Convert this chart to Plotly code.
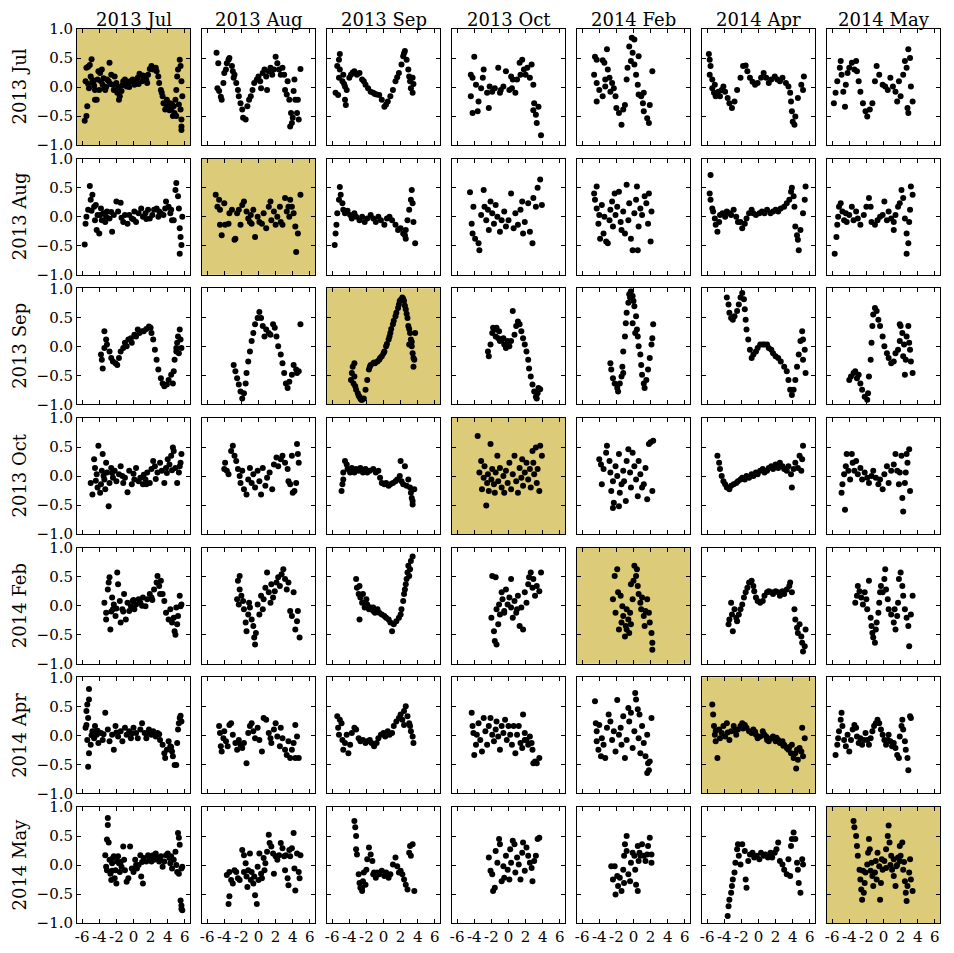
import plotly.graph_objects as go

months = ["2013 Jul", "2013 Aug", "2013 Sep", "2013 Oct", "2014 Feb", "2014 Apr", "2014 May"]
x_ticks = [-6, -4, -2, 0, 2, 4, 6]
x_tick_text = ["-6", "-4", "-2", "0", "2", "4", "6"]
y_ticks = [-1.0, -0.5, 0.0, 0.5, 1.0]
y_tick_text = ["\u22121.0", "\u22120.5", "0.0", "0.5", "1.0"]

# ---- row 0 : 2013 Jul ----
p_r0_c0 = [(-5.7,-.58),(-5.5,-.5),(-5.4,-.33),(-5.6,.1),(-5.5,.33),(-5.3,.35),(-5.1,.38),(-4.9,.48),(-5.0,.18),(-5.2,-.02),(-4.7,.07),(-4.5,-.05),(-4.3,-.22),(-4.5,-.22),(-4.2,.13),(-4.1,.27),(-3.9,.24),(-3.7,.3),(-3.6,.04),(-3.4,-.02),(-3.3,-.05),(-3.1,.13),(-2.9,.1),(-2.8,.42),(-2.6,.21),(-2.4,.04),(-2.2,.18),(-2.0,.07),(-1.9,-.1),(-1.7,-.22),(-1.6,-.16),(-1.4,-.07),(-1.2,.1),(-1.0,.13),(-.8,.01),(-.6,.07),(-.4,.1),(-.1,.13),(.1,.04),(.3,.1),(.5,.16),(.7,.23),(1.0,.1),(1.2,.13),(1.4,.18),(1.6,.07),(1.7,.21),(1.9,.31),(2.1,.36),(2.3,.3),(2.6,.33),(2.7,.27),(2.9,.18),(3.0,.07),(3.2,-.05),(3.4,-.16),(3.5,-.28),(3.7,-.39),(3.9,-.22),(4.1,-.33),(4.3,-.28),(4.4,-.39),(4.6,-.5),(4.7,-.33),(4.9,-.22),(5.0,-.05),(5.1,.18),(5.2,.3),(5.4,.47),(5.5,.36),(5.6,.1),(5.7,-.16),(5.5,-.39),(5.6,-.56),(5.6,-.68),(5.6,-.74),(-5.3,.05),(-4.8,.12),(-4.6,.02),(-4.0,-.05),(-3.8,.1),(-3.5,.15),(-3.2,.0),(-2.7,.05),(-2.3,-.05),(-1.8,.0),(-1.3,.03),(-.9,.08),(-.5,.0),(0.0,.08),(.6,.05),(1.1,.2),(1.5,.12),(3.3,-.1),(3.8,-.3),(4.2,-.4),(4.5,-.3),(4.8,-.45),(5.3,-.3),(5.0,-.5)]
p_r0_c1 = [(-4.9,.59),(-4.7,.41),(-4.8,-.02),(-4.6,-.07),(-4.4,-.17),(-4.3,-.22),(-4.1,.07),(-4.0,.24),(-3.8,.3),(-3.7,.41),(-3.5,.47),(-3.4,.5),(-3.1,.36),(-3.0,.27),(-2.9,.16),(-2.8,.21),(-2.6,.07),(-2.4,-.05),(-2.3,-.16),(-2.1,-.28),(-1.9,-.39),(-1.8,-.53),(-1.5,-.56),(-1.3,-.33),(-1.1,-.22),(-.9,-.16),(-.7,-.05),(-.5,.07),(-.2,.13),(0.0,.18),(.2,.1),(.3,-.02),(.5,.24),(.7,.3),(.9,.18),(1.0,-.05),(1.2,.27),(1.4,.33),(1.6,.21),(1.8,.3),(2.0,.52),(2.2,.41),(2.4,.3),(2.6,.21),(2.8,.33),(3.0,.21),(3.1,-.05),(3.3,-.13),(3.4,.1),(3.6,-.22),(3.8,-.45),(4.0,-.53),(4.1,-.07),(4.3,-.22),(3.7,-.68),(3.9,-.62),(4.5,-.45),(4.7,-.56),(4.9,.31),(4.6,-.22),(4.2,.13)]
p_r0_c2 = [(-5.1,.57),(-5.2,.47),(-5.4,.36),(-5.1,.3),(-4.7,.21),(-5.2,.16),(-4.8,.1),(-4.5,.01),(-5.6,-.1),(-5.3,-.14),(-4.5,-.22),(-4.4,-.31),(-4.3,-.05),(-4.0,.16),(-3.8,.21),(-3.4,.27),(-3.1,.21),(-2.8,.24),(-2.5,.13),(-2.1,.04),(-1.8,-.02),(-1.5,-.08),(-1.2,-.1),(-.8,-.13),(-.5,-.14),(-.2,-.22),(.1,-.34),(.5,-.25),(.8,-.16),(1.1,-.05),(1.4,.1),(1.8,.24),(2.1,.39),(2.3,.53),(2.5,.62),(2.7,.47),(2.9,.3),(3.0,.18),(3.1,.1),(3.2,-.02),(3.4,-.1),(3.5,.05),(3.4,.16),(-4.6,.05),(-3.6,.25),(-2.3,.1),(-1.0,-.12),(.3,-.3),(1.6,.17),(2.4,.58)]
p_r0_c3 = [(-4.0,.52),(-4.4,.21),(-4.2,.16),(-3.8,.04),(-4.4,-.16),(-4.2,-.45),(-3.6,-.42),(-3.5,-.25),(-3.2,-.02),(-3.0,.16),(-2.9,.3),(-2.5,-.1),(-2.3,-.36),(-2.2,.01),(-1.9,-.08),(-1.6,-.02),(-1.2,.33),(-1.0,-.1),(-.9,-.05),(-.6,.01),(-.3,.27),(.1,-.05),(.3,.18),(.5,.13),(.8,-.1),(1.0,.13),(1.3,.42),(1.6,.47),(1.8,.3),(2.0,.21),(2.2,.33),(2.5,.16),(2.7,.39),(2.9,.04),(3.0,-.28),(3.2,-.48),(3.3,-.62),(3.5,-.34),(3.8,-.83),(2.9,-.4),(1.4,.21),(.4,-.02)]
p_r0_c4 = [(-4.5,.52),(-4.3,.47),(-3.6,.46),(-3.1,.65),(-3.4,.42),(-4.6,.21),(-4.3,.07),(-4.0,-.05),(-4.3,-.25),(-3.6,-.16),(-3.3,.01),(-3.0,.3),(-2.8,.16),(-2.7,-.08),(-2.3,-.02),(-2.1,-.16),(-2.0,-.36),(-1.7,-.45),(-1.4,-.65),(-1.2,-.39),(-1.0,-.31),(-.8,.13),(-.7,.33),(-.5,.7),(-.2,.85),(.1,.82),(-.1,.59),(-.3,.45),(.1,.39),(.3,.21),(.5,.04),(.6,-.13),(.9,-.16),(1.1,-.28),(1.2,-.42),(1.6,-.54),(1.8,-.62),(1.9,-.31),(2.2,.27),(1.2,-.1),(.6,.53),(-3.3,.13),(-2.5,.07)]
p_r0_c5 = [(-5.8,.57),(-5.7,.47),(-5.6,.36),(-5.7,.21),(-5.4,.13),(-5.4,-.02),(-5.2,-.1),(-5.1,.04),(-5.0,-.16),(-4.7,-.08),(-4.5,-.16),(-4.3,-.05),(-4.1,.01),(-3.9,-.08),(-3.6,-.19),(-3.4,-.28),(-3.1,-.36),(-2.8,-.25),(-2.5,-.05),(-2.1,.16),(-1.8,.36),(-1.5,.37),(-1.3,.27),(-1.0,.16),(-.7,.09),(-.4,.04),(-.1,.07),(.3,.16),(.6,.24),(.9,.16),(1.2,.07),(1.5,.13),(1.9,.18),(2.2,.13),(2.5,.1),(2.8,.16),(3.2,.07),(3.5,.01),(3.7,-.1),(3.9,-.42),(4.0,-.6),(4.2,-.65),(4.3,-.51),(4.6,-.19),(5.0,.04),(5.3,.18),(5.2,-.05),(3.8,-.25)]
p_r0_c6 = [(-5.8,-.28),(-5.6,-.1),(-5.4,.1),(-5.1,.33),(-5.0,.45),(-4.9,.21),(-4.7,-.08),(-4.4,.04),(-4.2,.24),(-4.0,.33),(-3.7,.42),(-3.4,.3),(-3.2,.45),(-3.1,.27),(-2.9,.1),(-2.7,-.08),(-2.4,-.28),(-2.1,-.42),(-1.9,-.51),(-1.6,-.39),(-1.3,-.28),(-1.0,.1),(-.8,.36),(-.5,.21),(-.1,.04),(.2,.01),(.5,-.05),(.8,.16),(1.1,.01),(1.4,-.08),(1.8,.1),(2.0,-.16),(2.3,.21),(2.5,.45),(2.7,.33),(2.9,.65),(3.1,.5),(3.2,.01),(3.4,-.25),(2.9,-.45),(2.8,-.36),(1.6,-.25),(-4.5,-.34)]

# ---- row 1 : 2013 Aug ----
p_r1_c0 = [(-5.7,-.48),(-5.6,-.12),(-5.5,0.0),(-5.3,.12),(-5.1,.53),(-5.0,.29),(-4.8,.38),(-4.6,.17),(-4.5,-.06),(-4.3,-.23),(-4.2,.03),(-4.0,-.29),(-3.8,.14),(-3.7,-.06),(-3.5,.06),(-3.3,-.09),(-3.1,.09),(-2.8,-.03),(-2.5,-.26),(-2.3,.03),(-2.0,.26),(-1.8,.09),(-1.5,.24),(-1.2,-.09),(-1.0,.03),(-.7,-.12),(-.5,.03),(-.2,-.03),(.1,.09),(.3,-.09),(.6,.06),(.9,.14),(1.1,0.0),(1.4,.06),(1.7,.12),(1.9,-.03),(2.2,.03),(2.4,.12),(2.7,.14),(3.0,.09),(3.2,.06),(3.5,.03),(3.7,.14),(3.8,.26),(4.1,.17),(4.3,.06),(4.5,-.06),(4.7,-.06),(4.9,.46),(5.0,.58),(5.2,.35),(5.3,.14),(5.4,-.2),(5.5,-.35),(5.6,-.49),(5.4,-.64),(5.7,0.0),(-3.9,.03),(-3.2,0.0),(-4.9,.1),(-4.4,.2),(-2.6,.08),(-1.4,-.02),(.0,-.05),(1.5,-.04),(2.9,.0),(4.4,.12)]
p_r1_c1 = [(-5.0,.38),(-4.6,.29),(-4.5,.12),(-4.8,.17),(-4.5,-.14),(-4.3,-.32),(-4.0,.23),(-3.9,-.14),(-3.5,-.12),(-3.4,.06),(-3.1,.12),(-2.8,-.4),(-2.7,-.38),(-2.5,.06),(-2.3,.12),(-2.1,-.14),(-1.9,.2),(-1.7,.26),(-1.4,.09),(-1.2,-.03),(-1.0,-.09),(-.8,-.12),(-.6,.12),(-.4,-.35),(-.1,0.0),(.1,-.09),(.4,-.12),(.6,.06),(.9,-.2),(1.2,.17),(1.4,.26),(1.5,-.06),(1.8,.09),(2.0,-.14),(2.2,0.0),(2.5,.17),(2.6,-.09),(2.8,-.14),(3.1,.32),(3.3,.09),(3.5,.17),(3.7,.29),(3.9,.17),(4.1,.06),(4.3,-.17),(4.4,-.61),(4.6,-.29),(4.9,.38),(3.6,0.0),(-.9,.03)]
p_r1_c2 = [(-5.7,-.49),(-5.6,-.29),(-5.5,-.14),(-5.4,.06),(-5.2,.29),(-5.1,.51),(-5.0,.38),(-4.8,.23),(-4.7,.12),(-4.5,.06),(-4.2,.1),(-3.9,.03),(-3.7,-.03),(-3.4,.06),(-3.2,0.0),(-2.8,-.06),(-2.5,0.0),(-2.2,-.09),(-1.9,-.03),(-1.5,.03),(-1.2,-.03),(-.9,-.09),(-.6,0.0),(-.3,-.06),(.1,-.14),(.4,-.03),(.7,0.0),(1.0,-.06),(1.4,-.14),(1.7,-.23),(2.0,-.2),(2.3,-.29),(2.5,-.32),(2.6,-.23),(2.8,-.06),(3.0,.12),(3.2,.29),(3.3,.46),(3.4,.23),(3.5,-.09),(3.7,-.46),(2.6,-.38)]
p_r1_c3 = [(-4.5,.42),(-4.3,-.12),(-4.2,-.29),(-4.1,.17),(-3.9,-.38),(-3.5,-.46),(-3.4,-.58),(-3.2,.03),(-2.9,.46),(-2.8,.17),(-2.6,-.06),(-2.4,.12),(-2.3,-.23),(-1.9,.06),(-1.7,-.12),(-1.5,.2),(-1.3,0.0),(-1.0,-.26),(-.8,-.06),(-.5,.09),(-.3,-.17),(0.0,-.06),(.3,.4),(.6,-.2),(.8,.06),(1.1,-.14),(1.4,.12),(1.6,.26),(1.9,-.09),(2.3,.23),(2.5,-.26),(2.8,-.46),(2.9,.32),(3.2,.17),(3.4,.5),(3.7,.64),(3.9,.2),(1.7,-.29),(-2.1,.26)]
p_r1_c4 = [(-4.6,.4),(-4.5,.29),(-4.3,.14),(-4.3,.52),(-4.1,-.12),(-4.0,.03),(-3.9,-.38),(-3.7,.2),(-3.5,-.29),(-3.2,-.43),(-3.0,-.46),(-2.8,-.06),(-2.7,.12),(-2.5,.26),(-2.4,-.17),(-2.2,.4),(-2.1,.03),(-1.9,.17),(-1.7,.43),(-1.5,-.09),(-1.4,-.23),(-1.2,.09),(-1.0,-.29),(-.8,.55),(-.6,-.06),(-.5,.23),(-.3,-.38),(-.1,-.58),(.1,.06),(.3,.29),(.4,.52),(.5,-.58),(.6,-.17),(.8,.14),(1.0,.03),(1.3,.35),(1.5,.23),(1.7,-.12),(1.8,.4),(2.0,-.43),(2.1,.09),(-3.4,0.0)]
p_r1_c5 = [(-5.6,.72),(-5.7,.4),(-5.6,.29),(-5.4,.14),(-5.3,.09),(-5.1,-.03),(-5.0,-.14),(-4.8,-.26),(-4.6,-.09),(-4.5,.03),(-4.2,.06),(-3.9,0.0),(-3.7,.09),(-3.4,.06),(-3.2,.03),(-2.9,.12),(-2.6,0.0),(-2.4,-.09),(-2.1,-.09),(-1.9,-.2),(-1.6,-.12),(-1.4,-.03),(-1.1,.06),(-.8,.12),(-.6,.06),(-.3,.03),(.1,.06),(.4,.09),(.7,.06),(1.0,.12),(1.4,.06),(1.7,.09),(2.0,.12),(2.3,.09),(2.6,.14),(3.0,.17),(3.3,.23),(3.6,.29),(3.8,.43),(3.9,.5),(4.1,.35),(4.2,.17),(4.3,-.17),(4.5,-.32),(4.6,-.4),(4.7,-.58),(4.9,-.23),(5.2,.06),(5.4,.29),(5.5,.52)]
p_r1_c6 = [(-5.7,-.64),(-5.5,-.35),(-5.4,-.14),(-5.3,0.0),(-5.2,.17),(-5.0,.23),(-4.8,.09),(-4.6,-.06),(-4.4,.06),(-4.3,-.09),(-4.0,.03),(-3.7,.17),(-3.5,-.06),(-3.2,.09),(-3.0,-.03),(-2.7,-.14),(-2.3,.03),(-2.0,.17),(-1.7,.32),(-1.5,.17),(-1.4,-.09),(-1.0,-.14),(-.7,-.06),(-.4,0.0),(-.1,.03),(.1,.26),(.4,-.06),(.6,.09),(.9,-.03),(1.2,-.23),(1.4,.03),(1.7,.17),(1.9,.23),(2.1,.46),(2.3,.32),(2.5,-.03),(2.7,-.29),(2.9,-.46),(2.7,-.64),(3.0,-.09),(3.1,.12),(3.2,.52),(3.4,.38),(1.2,-.09)]

# ---- row 2 : 2013 Sep ----
p_r2_c0 = [(-3.8,-.14),(-3.7,-.23),(-3.6,-.38),(-3.4,-.03),(-3.4,.26),(-3.2,.12),(-3.1,.03),(-2.8,-.09),(-2.6,-.2),(-2.4,-.26),(-2.1,-.29),(-1.9,-.32),(-1.7,-.2),(-1.5,-.09),(-1.2,-.03),(-1.0,.06),(-.8,0.0),(-.6,.12),(-.3,.14),(-.2,.06),(.1,.2),(.3,.17),(.5,.29),(.7,.23),(1.0,.26),(1.2,.26),(1.5,.3),(1.8,.34),(2.0,.32),(2.1,.23),(2.3,.12),(2.5,-.06),(2.7,-.23),(2.9,-.4),(3.2,-.55),(3.4,-.64),(3.6,-.69),(3.9,-.66),(4.1,-.58),(4.4,-.49),(4.6,-.64),(4.7,-.43),(4.8,-.23),(5.0,-.09),(5.1,.06),(5.2,.17),(5.4,.29),(5.5,.12),(5.6,-.03),(5.0,-.03),(5.3,-.12)]
p_r2_c1 = [(-2.9,-.32),(-2.7,-.43),(-2.5,-.55),(-2.3,-.66),(-2.1,-.78),(-1.9,-.9),(-1.7,-.81),(-1.5,-.64),(-1.4,-.46),(-1.2,-.26),(-1.0,-.09),(-.8,.09),(-.6,.23),(-.4,.38),(-.1,.49),(.1,.59),(.3,.49),(.5,.35),(.7,.17),(.9,.29),(1.2,.23),(1.4,.2),(1.7,.38),(1.9,.32),(2.1,.17),(2.3,0.0),(2.6,-.14),(2.8,-.29),(3.0,-.46),(3.2,-.64),(3.4,-.72),(3.6,-.61),(3.9,-.49),(4.1,-.32),(4.4,-.4),(4.7,-.43),(4.9,.38),(4.5,-.46)]
p_r2_c2 = [(-3.8,-.58),(-3.7,-.46),(-3.6,-.35),(-3.4,-.29),(-3.5,-.64),(-3.3,-.69),(-3.2,-.75),(-3.0,-.81),(-2.8,-.87),(-2.5,-.92),(-2.3,-.9),(-2.1,-.75),(-1.9,-.58),(-1.7,-.4),(-1.5,-.32),(-1.2,-.29),(-1.0,-.29),(-.7,-.26),(-.5,-.23),(-.2,-.17),(.1,-.09),(.3,0.0),(.6,.12),(.8,.23),(1.1,.38),(1.4,.52),(1.7,.66),(1.9,.78),(2.2,.84),(2.4,.78),(2.6,.64),(2.8,.49),(2.9,.35),(3.1,.23),(3.2,.12),(3.3,0.0),(3.4,-.12),(3.6,-.23),(3.5,-.35),(3.7,.23),(3.0,.03),(-3.4,-.52),(-2.7,-.9),(.7,.17),(1.8,.72),(-2.9,-.85),(-2.6,-.92),(-1.6,-.35),(-1.1,-.28),(-.4,-.2),(0.0,-.12),(.4,.04),(.9,.3),(1.2,.44),(1.5,.58),(2.0,.8),(2.3,.82),(2.5,.7),(2.7,.56),(3.0,.3),(3.3,.08),(3.5,-.2)]
p_r2_c3 = [(-2.4,-.09),(-2.3,-.17),(-2.1,.03),(-1.9,.23),(-1.8,.32),(-1.6,.29),(-1.5,.17),(-1.4,.32),(-1.2,.14),(-1.1,.26),(-1.0,.09),(-.8,.12),(-.6,.14),(-.5,.03),(-.3,-.03),(-.1,.09),(.1,0.0),(.3,.09),(.5,.61),(.7,.2),(.9,.35),(1.1,.43),(1.3,.38),(1.5,.26),(1.7,.14),(1.9,.03),(2.1,-.09),(2.3,-.23),(2.4,-.38),(2.6,-.52),(2.8,-.66),(3.0,-.78),(3.2,-.87),(3.4,-.81),(3.5,-.72),(3.7,-.74),(3.3,-.9)]
p_r2_c4 = [(-2.7,-.29),(-2.6,-.4),(-2.4,-.55),(-2.2,-.64),(-1.9,-.72),(-1.8,-.78),(-1.6,-.64),(-1.4,-.52),(-1.3,-.35),(-1.2,-.09),(-1.0,.17),(-.9,.4),(-.8,.58),(-.6,.75),(-.5,.9),(-.3,.95),(-.1,.87),(0.0,.78),(.1,.69),(.3,.52),(.4,.29),(.5,.17),(.6,0.0),(.8,-.14),(.9,-.32),(1.0,-.49),(1.2,-.64),(1.3,-.72),(1.5,-.58),(1.7,-.4),(1.9,-.2),(2.1,.03),(2.2,.14),(2.3,.38),(.2,.23),(-.4,.84),(-.1,.4),(-1.2,-.46)]
p_r2_c5 = [(-3.7,.84),(-3.5,.72),(-3.4,.58),(-3.2,.49),(-3.0,.46),(-2.8,.52),(-2.5,.61),(-2.3,.72),(-2.1,.84),(-1.9,.92),(-1.7,.81),(-1.6,.64),(-1.5,.46),(-1.4,.29),(-1.2,.12),(-1.0,-.06),(-.8,-.2),(-.6,-.14),(-.3,-.09),(-.1,-.03),(.2,.03),(.5,.03),(.7,.03),(1.0,.03),(1.2,-.03),(1.5,-.06),(1.7,-.12),(2.0,-.17),(2.3,-.2),(2.6,-.26),(3.0,-.35),(3.3,-.43),(3.5,-.58),(3.7,-.75),(3.9,-.84),(4.1,-.75),(4.3,-.58),(4.5,-.35),(4.7,-.14),(4.9,.09),(5.1,.26),(5.2,.12),(5.4,-.06),(5.5,-.46),(5.2,-.23)]
p_r2_c6 = [(-4.0,-.58),(-3.8,-.52),(-3.5,-.46),(-3.3,-.43),(-3.1,-.55),(-2.9,-.49),(-2.7,-.64),(-2.5,-.75),(-2.2,-.87),(-1.9,-.92),(-1.8,-.81),(-1.7,-.52),(-1.5,-.23),(-1.4,.06),(-1.3,.35),(-1.2,.55),(-1.0,.66),(-.8,.61),(-.6,.46),(-.4,.35),(-.1,.17),(.1,0.0),(.4,-.12),(.6,-.2),(.9,-.29),(1.2,-.26),(1.4,-.12),(1.7,-.06),(1.9,.09),(2.0,.35),(2.2,.23),(2.3,-.17),(2.5,-.49),(2.6,-.23),(2.7,.17),(2.9,.35),(3.0,.06),(3.1,-.06),(3.2,-.26),(3.4,-.46),(1.9,.38),(2.4,.03)]

# ---- row 3 : 2013 Oct ----
p_r3_c0 = [(-5.0,-.12),(-4.8,-.32),(-4.6,.29),(-4.5,.14),(-4.3,.03),(-4.2,-.2),(-4.1,.52),(-3.9,-.29),(-3.8,-.14),(-3.7,.09),(-3.6,.38),(-3.4,-.06),(-3.3,-.23),(-3.2,.23),(-3.1,.06),(-2.9,-.52),(-2.8,-.12),(-2.6,.14),(-2.4,-.03),(-2.2,.09),(-2.0,-.09),(-1.7,.03),(-1.5,.17),(-1.2,-.12),(-1.0,-.03),(-.7,-.28),(-.5,.09),(-.2,-.14),(.1,-.06),(.3,.14),(.6,-.09),(.8,-.03),(1.1,-.14),(1.4,-.06),(1.6,.06),(1.9,-.12),(2.1,.12),(2.3,.26),(2.5,.17),(2.8,.06),(3.1,.23),(3.3,.09),(3.6,-.12),(3.8,.14),(4.0,.29),(4.2,.2),(4.4,.35),(4.6,.49),(4.7,.43),(4.9,.14),(5.1,-.12),(5.3,.06),(5.5,.23),(5.6,.38),(5.4,.17),(1.5,-.14),(-4.4,-.08),(-3.5,.0),(-2.5,.05),(-1.3,.0),(.0,.04),(1.2,.02),(2.6,-.05),(3.9,.05),(4.5,.1)]
p_r3_c1 = [(-4.0,.12),(-3.9,.23),(-3.7,.09),(-3.5,.03),(-3.2,.43),(-3.0,.52),(-2.8,.35),(-2.6,.26),(-2.4,.12),(-2.2,0.0),(-2.1,-.12),(-1.9,.09),(-1.7,-.23),(-1.4,-.32),(-1.2,-.06),(-1.0,.14),(-.8,-.12),(-.6,.03),(-.4,-.2),(-.1,.09),(.1,-.09),(.3,-.32),(.5,.14),(.8,-.17),(1.0,-.03),(1.3,.06),(1.6,-.23),(1.8,.2),(2.1,.32),(2.3,.17),(2.6,.29),(2.8,.35),(3.1,.23),(3.4,.12),(3.5,-.09),(3.7,-.14),(4.0,-.29),(4.2,-.26),(4.4,-.12),(4.6,.38),(4.7,.23),(4.5,.55),(3.9,.35)]
p_r3_c2 = [(-4.9,-.26),(-4.8,-.14),(-4.7,-.06),(-4.7,.06),(-4.5,.26),(-4.3,.2),(-4.2,.12),(-3.9,.06),(-3.7,.14),(-3.4,.06),(-3.2,.12),(-2.9,.09),(-2.7,.14),(-2.4,.06),(-2.1,.12),(-1.9,.06),(-1.6,.09),(-1.2,.12),(-.9,.06),(-.6,.09),(-.4,-.03),(-.2,-.12),(.1,-.14),(.3,-.12),(.6,-.17),(.8,-.14),(1.1,-.12),(1.4,-.09),(1.6,-.06),(1.9,0.0),(2.0,.26),(2.1,-.09),(2.3,-.14),(2.5,.17),(2.7,-.17),(2.9,-.06),(3.1,-.2),(3.2,-.29),(3.3,-.38),(3.4,-.43),(3.4,-.49),(3.6,-.23)]
p_r3_c3 = [(-3.6,.69),(-3.4,.06),(-3.2,.26),(-3.1,-.23),(-2.9,-.03),(-2.8,.17),(-2.6,-.51),(-2.5,-.12),(-2.4,.03),(-2.3,-.26),(-2.1,.55),(-2.0,-.06),(-1.9,.12),(-1.7,-.14),(-1.6,-.29),(-1.5,.06),(-1.3,.35),(-1.2,-.09),(-1.0,.14),(-.8,-.2),(-.6,0.0),(-.5,-.29),(-.3,.09),(-.1,-.12),(.1,.23),(.3,-.23),(.5,.03),(.7,.35),(.9,-.09),(1.1,-.29),(1.3,.14),(1.5,-.03),(1.6,.29),(1.7,-.17),(1.9,.06),(2.1,.23),(2.3,-.06),(2.5,.12),(2.6,-.2),(2.8,.43),(2.9,.23),(3.0,.03),(3.2,.49),(3.3,-.12),(3.4,.12),(3.6,-.26),(3.7,.52),(3.9,.35)]
p_r3_c4 = [(-4.0,.29),(-3.8,.2),(-3.7,-.14),(-3.5,.12),(-3.2,.4),(-3.1,.52),(-2.8,.26),(-2.7,.06),(-2.6,-.26),(-2.4,-.09),(-2.3,-.46),(-2.1,.17),(-1.9,0.0),(-1.7,.38),(-1.6,-.29),(-1.4,-.14),(-1.2,.09),(-1.1,-.09),(-.9,-.43),(-.8,.26),(-.6,.46),(-.4,.06),(-.3,-.2),(-.1,.4),(.1,.17),(.3,-.06),(.5,-.35),(.6,.26),(.8,.03),(1.0,-.2),(1.2,-.14),(1.4,.14),(1.6,-.4),(1.8,.55),(2.0,.58),(2.2,-.26),(2.3,.61),(-1.7,-.52),(-2.4,-.55)]
p_r3_c5 = [(-4.8,.35),(-4.6,.23),(-4.5,.12),(-4.3,0.0),(-4.1,-.09),(-3.9,-.14),(-3.7,-.2),(-3.4,-.23),(-3.2,-.17),(-2.9,-.14),(-2.6,-.12),(-2.4,-.09),(-2.1,-.06),(-1.9,-.03),(-1.6,-.06),(-1.4,0.0),(-1.1,-.03),(-.8,.03),(-.6,0.0),(-.3,.06),(-.1,.03),(.2,.09),(.5,.12),(.7,.06),(1.0,.09),(1.2,.14),(1.5,.17),(1.7,.12),(2.0,.2),(2.3,.14),(2.5,.23),(2.8,.17),(3.0,.12),(3.3,.09),(3.5,.17),(3.8,.03),(3.9,-.2),(4.1,.12),(4.3,.23),(4.6,.14),(4.8,.35),(5.1,.29),(5.2,.52),(5.0,.09)]
p_r3_c6 = [(-4.9,-.29),(-4.8,-.14),(-4.6,.03),(-4.5,-.58),(-4.4,.17),(-4.3,.38),(-4.1,.09),(-3.9,-.06),(-3.7,.38),(-3.6,.23),(-3.4,.09),(-3.2,.26),(-3.0,.03),(-2.7,.14),(-2.5,-.06),(-2.2,.06),(-1.9,-.03),(-1.7,-.12),(-1.4,0.0),(-1.2,.09),(-.9,-.03),(-.6,-.14),(-.4,-.06),(-.1,-.23),(.1,.03),(.4,.17),(.6,-.12),(.9,.09),(1.2,.2),(1.4,.38),(1.6,.09),(1.8,-.14),(1.9,.06),(2.1,.35),(2.2,-.38),(2.3,-.61),(2.5,-.12),(2.6,.06),(2.7,.38),(3.0,.46),(3.1,-.26),(2.8,.23)]

# ---- row 4 : 2014 Feb ----
p_r4_c0 = [(-3.4,.05),(-3.2,-.24),(-3.2,-.12),(-3.0,.28),(-2.9,.4),(-2.8,.49),(-2.7,-.41),(-2.5,.14),(-2.4,-.06),(-2.3,.02),(-2.1,-.18),(-1.9,.57),(-1.8,.37),(-1.6,.08),(-1.5,-.29),(-1.3,-.06),(-1.1,.2),(-.9,-.24),(-.7,.05),(-.5,-.09),(-.3,-.01),(-.1,.08),(.1,-.06),(.3,.02),(.6,.11),(.8,.05),(1.1,.14),(1.4,-.01),(1.6,.11),(1.9,.2),(2.1,.14),(2.4,.28),(2.7,.4),(2.8,.51),(3.0,.34),(3.2,.43),(3.4,.2),(3.6,.08),(3.8,-.12),(4.1,-.24),(4.3,-.06),(4.5,-.29),(4.7,-.21),(4.8,-.44),(4.9,-.5),(5.1,-.32),(5.2,-.18),(5.4,.17),(5.5,-.01),(5.6,.02),(5.0,-.03),(-2.6,-.1),(-2.0,-.05),(-1.2,-.1),(.0,.1),(1.0,.0),(2.2,.1),(3.1,.2)]
p_r4_c1 = [(-2.4,.43),(-2.2,.51),(-2.5,.11),(-2.3,.02),(-2.2,.28),(-2.0,.17),(-1.8,.08),(-1.7,-.06),(-1.5,-.29),(-1.4,-.44),(-1.2,-.15),(-1.1,.05),(-1.0,-.03),(-.8,-.24),(-.6,-.35),(-.5,-.55),(-.4,-.67),(-.3,-.47),(-.1,.02),(.1,-.15),(.3,.17),(.5,-.06),(.6,.11),(.8,.31),(1.0,.57),(1.2,.23),(1.4,.05),(1.5,.37),(1.7,.14),(1.9,.25),(2.1,.4),(2.3,.49),(2.5,.34),(2.7,.54),(2.9,.63),(3.1,.46),(3.3,.28),(3.5,.4),(3.7,-.09),(3.9,-.18),(4.1,.23),(4.3,-.41),(4.5,-.27),(4.6,-.09),(4.8,-.55)]
p_r4_c2 = [(-3.2,.46),(-3.1,.31),(-2.9,.2),(-2.8,.34),(-2.7,.14),(-2.5,.05),(-2.4,.2),(-2.2,-.03),(-2.0,.11),(-1.9,.02),(-2.8,-.24),(-1.7,-.06),(-1.5,-.03),(-1.2,-.09),(-1.0,-.12),(-.7,-.06),(-.5,-.12),(-.2,-.15),(.1,-.18),(.3,-.21),(.6,-.24),(.8,-.29),(1.0,-.44),(1.2,-.32),(1.5,-.27),(1.8,-.21),(2.0,-.15),(2.1,-.06),(2.3,.08),(2.4,.2),(2.5,.28),(2.7,.46),(2.8,.57),(2.9,.69),(3.1,.63),(3.2,.77),(3.4,.85),(2.6,.37),(3.0,.51),(-1.2,-.03)]
p_r4_c3 = [(-1.9,.51),(-1.5,.49),(-2.0,-.21),(-1.7,-.44),(-1.6,-.61),(-1.4,-.67),(-1.4,-.06),(-1.2,-.32),(-1.1,.02),(-1.0,-.15),(-.8,.23),(-.7,.11),(-.5,-.12),(-.3,.28),(-.1,.02),(.1,.14),(.3,.46),(.3,-.03),(.5,-.21),(.7,.08),(.9,-.12),(1.1,.17),(1.3,-.35),(1.5,-.03),(1.7,-.41),(1.9,.23),(2.1,.05),(2.3,.37),(2.4,.49),(2.6,.57),(2.8,.31),(2.9,.46),(3.1,.17),(3.3,.34),(3.6,.25),(3.8,.57),(-.5,-.09),(1.0,-.06)]
p_r4_c4 = [(-2.4,.11),(-2.2,.51),(-2.1,-.12),(-1.9,.63),(-1.8,.23),(-1.7,-.41),(-1.5,.17),(-1.4,-.29),(-1.3,-.01),(-1.2,-.18),(-1.0,-.53),(-.9,-.35),(-.8,-.06),(-.6,-.24),(-.5,-.47),(-.4,-.12),(-.3,-.32),(-.1,.11),(0.0,.43),(.1,.69),(.3,.51),(.4,.63),(.5,.34),(.6,.2),(.8,.05),(.9,-.06),(1.0,.14),(1.2,-.18),(1.3,-.35),(1.4,-.09),(1.6,.11),(1.8,-.12),(1.9,-.29),(2.1,-.47),(2.2,-.64),(2.2,-.76),(-.8,-.41),(-.3,.37)]
p_r4_c5 = [(-3.5,-.32),(-3.4,-.24),(-3.2,.05),(-3.1,-.15),(-3.0,-.44),(-2.8,-.06),(-2.6,-.21),(-2.5,-.27),(-2.3,-.15),(-2.1,-.06),(-1.9,.02),(-1.7,.14),(-1.5,.23),(-1.3,.31),(-1.1,.4),(-.8,.43),(-.6,.34),(-.5,.25),(-.3,.14),(-.1,.08),(.2,.05),(.5,.08),(.7,.17),(1.0,.23),(1.2,.25),(1.5,.23),(1.7,.2),(2.0,.25),(2.3,.23),(2.5,.17),(2.8,.25),(3.0,.2),(3.3,.28),(3.6,.34),(3.7,.4),(3.9,.23),(4.2,-.06),(4.3,-.24),(4.5,-.38),(4.6,-.47),(4.8,-.32),(5.0,-.53),(5.1,-.64),(5.2,-.79),(5.4,-.7),(5.5,-.41)]
p_r4_c6 = [(-3.3,.05),(-3.1,.17),(-3.0,.34),(-2.8,.25),(-2.6,.14),(-2.4,.02),(-2.2,.23),(-2.0,.11),(-1.9,-.06),(-1.7,.43),(-1.5,-.21),(-1.4,-.35),(-1.3,-.47),(-1.2,-.55),(-1.0,-.64),(-.9,-.41),(-.8,-.29),(-.6,-.12),(-.5,.05),(-.4,.23),(-.3,.34),(-.1,.23),(.1,.46),(.2,.63),(.3,.28),(.5,.11),(.6,-.06),(.9,-.15),(1.2,-.29),(1.4,-.41),(1.6,-.18),(1.7,.05),(1.8,.46),(2.0,.57),(2.2,.34),(2.3,.17),(2.5,-.06),(2.7,-.21),(2.9,-.35),(3.0,-.7),(3.2,-.15),(3.4,.17),(1.3,-.06)]

# ---- row 5 : 2014 Apr ----
p_r5_c0 = [(-5.6,.13),(-5.5,.42),(-5.4,.53),(-5.2,.62),(-5.2,.8),(-5.3,.3),(-5.5,.18),(-5.4,-.08),(-5.2,-.31),(-5.3,-.54),(-5.0,-.16),(-4.8,.07),(-4.6,-.05),(-4.5,.16),(-4.3,.01),(-4.1,-.13),(-3.8,.04),(-3.6,-.08),(-3.3,.39),(-3.0,.1),(-2.8,-.1),(-2.5,.01),(-2.3,-.25),(-2.1,.16),(-1.8,-.02),(-1.5,.07),(-1.3,-.1),(-1.0,.13),(-.8,.01),(-.5,.07),(-.3,-.05),(0.0,.13),(.3,.04),(.5,-.05),(.8,.1),(1.0,.21),(1.3,.04),(1.5,-.05),(1.8,.1),(2.1,.01),(2.3,.07),(2.6,-.02),(2.8,.04),(3.1,-.08),(3.4,-.16),(3.6,-.31),(3.7,-.39),(3.9,-.25),(4.1,-.1),(4.3,-.19),(4.5,-.28),(4.6,-.36),(4.8,-.51),(5.0,-.51),(5.1,-.13),(5.2,.1),(5.4,.3),(5.5,.34),(5.6,.24),(5.3,.21),(-4.9,.0),(-4.2,.08),(-3.5,.02),(-2.0,.05),(-.2,.03),(1.6,.03),(3.0,.02),(4.4,-.2)]
p_r5_c1 = [(-4.6,.16),(-4.5,.04),(-4.4,-.19),(-4.3,-.28),(-4.1,-.05),(-4.0,.07),(-3.8,-.1),(-3.6,-.19),(-3.4,.18),(-3.2,.21),(-3.0,.01),(-2.7,-.13),(-2.5,-.25),(-2.3,-.08),(-2.1,-.16),(-1.9,-.22),(-1.7,-.13),(-1.4,-.48),(-1.2,.04),(-1.0,.16),(-.8,.21),(-.6,.07),(-.4,-.05),(-.1,.13),(.1,-.08),(.4,-.28),(.6,.3),(.9,.27),(1.2,.04),(1.4,-.05),(1.5,-.13),(1.8,.1),(2.0,.21),(2.2,-.02),(2.5,-.19),(2.6,.13),(2.8,-.05),(3.1,-.25),(3.3,-.34),(3.5,-.1),(3.7,-.39),(3.9,-.25),(4.1,-.13),(4.3,.18),(4.5,-.02),(4.7,-.39),(4.3,-.39)]
p_r5_c2 = [(-5.4,.33),(-5.3,.13),(-5.2,.01),(-5.1,.27),(-4.9,.21),(-4.8,-.08),(-4.7,-.25),(-4.5,-.13),(-4.3,.01),(-4.1,-.31),(-3.9,-.16),(-3.7,.04),(-3.4,.13),(-3.2,.1),(-2.9,-.05),(-2.7,-.1),(-2.4,-.08),(-2.1,-.13),(-1.9,-.1),(-1.6,-.08),(-1.4,-.13),(-1.1,-.19),(-.8,-.13),(-.6,-.05),(-.3,.01),(0.0,.04),(.2,-.02),(.5,.07),(.7,.01),(1.0,.04),(1.2,.16),(1.5,.24),(1.8,.3),(2.0,.36),(2.2,.27),(2.4,.42),(2.6,.5),(2.8,.33),(3.0,.21),(3.1,.16),(3.2,.07),(3.4,-.02),(3.5,-.13),(2.4,.18)]
p_r5_c3 = [(-4.3,.39),(-4.2,.16),(-4.1,.04),(-4.0,-.34),(-3.8,-.16),(-3.7,.01),(-3.5,.21),(-3.3,-.08),(-3.1,-.28),(-2.9,.3),(-2.7,.07),(-2.5,-.16),(-2.3,.16),(-2.1,.3),(-1.9,.01),(-1.7,-.1),(-1.5,.1),(-1.4,.24),(-1.2,-.02),(-1.0,-.25),(-.8,.16),(-.6,.04),(-.4,.27),(-.2,-.08),(0.0,.16),(.2,.01),(.4,-.16),(.6,.16),(.8,-.31),(1.0,.01),(1.2,.16),(1.4,-.13),(1.6,-.22),(1.7,.36),(1.9,.04),(2.1,-.08),(2.3,-.16),(2.5,-.02),(2.7,-.13),(2.8,-.25),(2.9,-.48),(3.1,-.45),(3.3,-.48),(3.6,-.39),(1.9,-.08)]
p_r5_c4 = [(-4.5,.59),(-4.4,.21),(-4.3,.07),(-4.3,-.1),(-4.1,-.25),(-4.0,.18),(-3.8,-.36),(-3.7,-.05),(-3.5,-.16),(-3.3,-.39),(-3.1,.13),(-2.9,.36),(-2.7,.24),(-2.5,-.08),(-2.3,.07),(-2.1,-.28),(-1.9,.61),(-1.7,.01),(-1.5,.13),(-1.4,-.16),(-1.2,.33),(-1.0,-.39),(-.8,-.08),(-.6,.47),(-.5,.24),(-.3,.39),(-.1,-.22),(.1,.07),(.2,.73),(.3,.62),(.5,.45),(.6,-.05),(.7,.36),(.8,-.31),(1.0,.16),(1.2,-.13),(1.4,-.36),(1.6,.01),(1.7,-.48),(1.8,-.6),(1.9,-.45),(2.1,.3),(1.6,-.65)]
p_r5_c5 = [(-5.4,.53),(-5.3,.36),(-5.2,.16),(-5.1,.01),(-5.0,-.1),(-4.8,-.39),(-4.6,.1),(-4.3,.04),(-4.1,.16),(-3.9,-.02),(-3.7,.21),(-3.4,-.08),(-3.2,.07),(-2.9,.16),(-2.6,.01),(-2.4,.1),(-2.1,.16),(-1.9,.21),(-1.6,.18),(-1.4,.13),(-1.1,.07),(-.8,.04),(-.6,.1),(-.3,.01),(-.1,-.05),(.2,-.02),(.5,.07),(.7,.01),(1.0,-.08),(1.2,-.1),(1.5,-.05),(1.7,-.02),(2.0,-.1),(2.3,-.08),(2.5,-.13),(2.8,-.1),(3.0,-.16),(3.3,-.22),(3.5,-.25),(3.8,-.31),(4.1,-.39),(4.3,-.31),(4.4,-.57),(4.6,-.42),(4.8,-.22),(5.0,-.28),(5.1,.13),(5.4,-.05),(5.2,-.36),(3.9,-.16),(-5.0,.08),(-4.5,-.05),(-3.6,.05),(-2.8,.08),(-1.8,.12),(-.4,.06),(.9,-.02),(2.1,-.04),(2.9,-.18),(3.6,-.2),(4.5,-.25)]
p_r5_c6 = [(-5.6,-.34),(-5.4,-.16),(-5.3,-.05),(-5.2,.07),(-5.0,.27),(-4.9,.39),(-4.8,.16),(-4.6,-.08),(-4.4,-.19),(-4.2,.01),(-4.0,-.28),(-3.8,-.08),(-3.6,.1),(-3.4,.18),(-3.2,.13),(-3.1,-.02),(-2.9,-.13),(-2.7,-.05),(-2.5,-.16),(-2.3,-.08),(-2.1,.04),(-1.9,-.08),(-1.7,-.16),(-1.5,-.05),(-1.3,.07),(-1.1,.16),(-.9,.21),(-.7,.27),(-.5,.21),(-.3,.1),(-.1,.01),(.1,-.08),(.3,-.16),(.5,-.08),(.6,.01),(.8,-.1),(1.0,-.19),(1.2,-.13),(1.4,-.22),(1.6,-.34),(1.8,-.39),(1.9,-.02),(2.1,.16),(2.2,.27),(2.3,.1),(2.5,-.1),(2.6,-.25),(2.8,-.39),(2.9,-.6),(3.1,.33),(3.2,.3)]

# ---- row 6 : 2014 May ----
p_r6_c0 = [(-3.0,.81),(-3.0,.69),(-3.1,.44),(-2.9,.39),(-3.3,.17),(-3.2,-.03),(-3.1,-.09),(-2.8,.09),(-2.7,-.15),(-2.6,-.26),(-2.5,.03),(-2.4,.12),(-2.3,.15),(-2.2,-.23),(-2.1,-.09),(-2.0,-.32),(-1.9,.06),(-1.8,.15),(-1.7,.03),(-1.6,-.12),(-1.4,-.03),(-1.2,.32),(-1.1,.09),(-1.0,-.09),(-.8,-.29),(-.6,-.23),(-.4,.32),(-.2,-.06),(0.0,-.12),(.2,.09),(.4,-.06),(.6,0.0),(.8,.17),(.9,-.2),(1.1,-.32),(1.2,.12),(1.5,.06),(1.7,.17),(1.9,.12),(2.1,.06),(2.3,.17),(2.4,.09),(2.6,.2),(2.8,.12),(3.0,.06),(3.2,.15),(3.4,-.03),(3.6,.06),(3.8,.17),(4.0,.2),(4.2,.12),(4.3,.03),(4.5,-.06),(4.7,.09),(4.9,.23),(5.0,0.0),(5.1,-.12),(5.2,.55),(5.3,.47),(5.4,.35),(5.6,-.06),(5.7,-.03),(5.3,-.15),(5.5,-.61),(5.6,-.7),(5.7,-.78),(5.6,-.76),(-2.5,-.1),(-1.5,.05),(.3,.0),(1.0,.05),(2.0,.15),(3.1,.1),(4.4,.15)]
p_r6_c1 = [(-3.5,-.67),(-3.4,-.54),(-3.7,-.17),(-3.4,-.12),(-3.2,-.26),(-3.0,-.32),(-2.8,-.09),(-2.6,-.12),(-2.4,-.23),(-2.2,-.26),(-1.9,.26),(-1.7,.17),(-1.7,-.12),(-1.5,.03),(-1.4,-.2),(-1.3,-.38),(-1.2,-.09),(-1.0,.2),(-.9,-.26),(-.8,-.12),(-.6,-.32),(-.5,-.2),(-.4,-.52),(-.2,-.67),(-.1,-.03),(0.0,-.26),(.1,.2),(.3,-.15),(.4,-.23),(.6,.12),(.7,-.09),(.8,.03),(1.0,.23),(1.2,.52),(1.3,.38),(1.5,.32),(1.7,.2),(1.8,-.15),(2.0,.15),(2.2,.09),(2.4,.17),(2.6,.38),(2.8,.29),(3.0,.15),(3.1,-.09),(3.2,.17),(3.4,-.23),(3.5,-.35),(3.6,.26),(3.7,.15),(3.9,.29),(4.1,.55),(4.2,-.06),(4.3,-.44),(4.5,.2),(4.7,-.12),(4.9,.17),(4.8,-.23)]
p_r6_c2 = [(-3.4,.76),(-3.3,.65),(-3.2,.5),(-3.2,.27),(-3.1,.18),(-2.9,-.16),(-2.8,-.31),(-2.7,-.39),(-2.5,-.45),(-2.4,-.28),(-2.3,-.13),(-2.1,-.34),(-2.0,-.08),(-1.9,.1),(-1.7,.3),(-1.5,.18),(-1.3,.07),(-1.1,-.13),(-.9,-.22),(-.7,-.13),(-.5,-.16),(-.2,-.1),(.1,-.19),(.3,-.13),(.6,-.22),(.8,-.16),(1.1,.01),(1.4,.13),(1.6,-.02),(1.8,-.13),(2.0,-.1),(2.2,-.16),(2.4,-.25),(2.6,-.34),(2.8,-.42),(3.0,.21),(3.1,.33),(3.2,.16),(3.4,.36),(3.6,-.45),(-2.5,-.39),(-1.2,-.16)]
p_r6_c3 = [(-2.3,.13),(-2.1,-.1),(-1.9,-.16),(-1.8,-.45),(-1.6,-.39),(-1.5,.24),(-1.3,.04),(-1.1,.45),(-1.0,.36),(-.8,-.28),(-.6,-.02),(-.5,-.22),(-.3,.16),(-.1,-.08),(.1,-.25),(.2,.27),(.3,.04),(.5,.42),(.7,.36),(.8,-.13),(1.0,.13),(1.2,.01),(1.4,-.25),(1.6,.21),(1.7,.39),(1.9,-.1),(2.1,.3),(2.3,.16),(2.5,.04),(2.7,-.05),(2.8,-.28),(3.0,.07),(3.2,.16),(3.4,.45),(3.6,.47)]
p_r6_c4 = [(-2.6,-.02),(-2.4,-.25),(-2.2,-.02),(-2.1,-.51),(-1.9,-.19),(-1.8,-.36),(-1.6,-.22),(-1.4,-.45),(-1.2,-.08),(-1.1,.16),(-1.0,.36),(-.8,.5),(-.8,.24),(-.6,-.16),(-.4,-.28),(-.3,.04),(-.1,.21),(.1,.16),(.2,-.08),(.3,-.34),(.5,-.45),(.6,.07),(.7,.21),(.8,.16),(1.0,.36),(1.2,.16),(1.4,.07),(1.6,.18),(1.7,.33),(1.9,.47),(2.1,.18),(2.1,.04),(.5,.33),(-1.1,-.31)]
p_r6_c5 = [(-3.6,-.88),(-3.5,-.71),(-3.4,-.6),(-3.2,-.48),(-3.1,-.36),(-3.0,-.25),(-2.8,-.13),(-2.7,.04),(-2.5,.27),(-2.4,.36),(-2.3,.16),(-2.1,.01),(-1.9,.36),(-1.6,.24),(-1.5,-.25),(-1.4,-.39),(-1.2,.07),(-1.0,.18),(-.7,.21),(-.5,.13),(-.2,.16),(.1,.1),(.3,.21),(.6,.16),(.8,.18),(1.1,.13),(1.4,.21),(1.6,.13),(1.9,.21),(2.1,.27),(2.3,.39),(2.5,.07),(2.8,.01),(3.0,-.08),(3.3,-.16),(3.5,.1),(3.7,-.19),(3.8,.33),(3.9,.45),(4.1,.56),(4.3,.45),(4.5,.04),(4.6,-.08),(4.7,-.31),(4.9,-.48),(5.1,.1),(5.2,.01)]
p_r6_c6 = [(-3.5,.76),(-3.4,.65),(-3.2,.5),(-3.1,.33),(-3.0,.16),(-2.8,-.08),(-2.7,-.25),(-2.6,-.42),(-2.5,-.6),(-2.3,-.48),(-2.2,-.31),(-2.1,-.13),(-1.9,.01),(-1.8,.21),(-1.7,.45),(-1.6,.27),(-1.4,.04),(-1.3,-.19),(-1.2,-.36),(-1.0,-.13),(-.9,.07),(-.7,.21),(-.5,-.02),(-.4,-.6),(-.3,-.31),(-.1,-.08),(.1,.07),(.3,.27),(.5,.5),(.6,.68),(.7,.39),(.9,.16),(1.0,-.08),(1.2,-.19),(1.4,-.36),(1.5,-.02),(1.7,.13),(1.9,.33),(2.0,.16),(2.2,.39),(2.3,-.08),(2.5,-.28),(2.6,-.48),(2.7,-.62),(2.8,-.36),(3.0,-.13),(3.1,.1),(3.2,-.25),(3.4,-.45),(1.9,.07),(1.2,.1),(.3,-.05),(-.8,-.25),(-2.4,-.1),(-1.5,-.1),(-.2,.1),(.8,.0),(1.6,.0),(2.4,.05)]

panels = [
    [p_r0_c0, p_r0_c1, p_r0_c2, p_r0_c3, p_r0_c4, p_r0_c5, p_r0_c6],
    [p_r1_c0, p_r1_c1, p_r1_c2, p_r1_c3, p_r1_c4, p_r1_c5, p_r1_c6],
    [p_r2_c0, p_r2_c1, p_r2_c2, p_r2_c3, p_r2_c4, p_r2_c5, p_r2_c6],
    [p_r3_c0, p_r3_c1, p_r3_c2, p_r3_c3, p_r3_c4, p_r3_c5, p_r3_c6],
    [p_r4_c0, p_r4_c1, p_r4_c2, p_r4_c3, p_r4_c4, p_r4_c5, p_r4_c6],
    [p_r5_c0, p_r5_c1, p_r5_c2, p_r5_c3, p_r5_c4, p_r5_c5, p_r5_c6],
    [p_r6_c0, p_r6_c1, p_r6_c2, p_r6_c3, p_r6_c4, p_r6_c5, p_r6_c6],
]

# figure is drawn 8px smaller than the window so the page's default body margin does not overflow
OFF = 8
W, H = 954 - 2 * OFF, 953 - 2 * OFF
FONT = "DejaVu Serif"
GOLD = "#dccb79"
LEFT0, PITCH_X, PW = 77 - OFF, 125, 113
TOP0, PITCH_Y, PH = 29 - OFF, 129.67, 116

fig = go.Figure()
layout = dict(width=W, height=H, margin=dict(l=0, r=0, t=0, b=0, autoexpand=False),
              paper_bgcolor="white", plot_bgcolor="white", showlegend=False,
              shapes=[], annotations=[])

for r in range(7):
    for c in range(7):
        i = r * 7 + c + 1
        s = "" if i == 1 else str(i)
        pts = panels[r][c]
        fig.add_trace(go.Scatter(
            x=[p[0] for p in pts], y=[p[1] for p in pts], mode="markers",
            marker=dict(size=6, color="black"),
            xaxis="x" + s, yaxis="y" + s, hoverinfo="skip"))
        left = LEFT0 + PITCH_X * c
        top = TOP0 + PITCH_Y * r
        common = dict(ticks="inside", ticklen=4, tickwidth=1, tickcolor="black",
                      showline=True, linecolor="black", linewidth=1, mirror="ticks",
                      showgrid=False, zeroline=False, automargin=False,
                      tickfont=dict(family=FONT, size=15, color="black"))
        layout["xaxis" + s] = dict(domain=[left / W, (left + PW) / W], range=[-6.6, 6.6],
                                   anchor="y" + s, tickvals=x_ticks, ticktext=x_tick_text,
                                   showticklabels=(r == 6), **common)
        layout["yaxis" + s] = dict(domain=[1 - (top + PH) / H, 1 - top / H], range=[-1, 1],
                                   anchor="x" + s, tickvals=y_ticks, ticktext=y_tick_text,
                                   showticklabels=(c == 0), **common)
        if r == c:
            layout["shapes"].append(dict(type="rect", xref="x" + s + " domain", yref="y" + s + " domain",
                                         x0=0, x1=1, y0=0, y1=1, fillcolor=GOLD,
                                         line=dict(width=0), layer="below"))

for c in range(7):
    cx = (LEFT0 + PITCH_X * c + PW / 2) / W
    layout["annotations"].append(dict(text=months[c], x=cx, y=1 - 11 / H, xref="paper", yref="paper",
                                      xanchor="center", yanchor="middle", showarrow=False,
                                      font=dict(family=FONT, size=18, color="black")))
for r in range(7):
    cy = 1 - (TOP0 + PITCH_Y * r + PH / 2) / H
    layout["annotations"].append(dict(text=months[r], x=11.5 / W, y=cy, xref="paper", yref="paper",
                                      xanchor="center", yanchor="middle", textangle=-90, showarrow=False,
                                      font=dict(family=FONT, size=18, color="black")))

fig.update_layout(**layout)
fig.write_html("out.html")
